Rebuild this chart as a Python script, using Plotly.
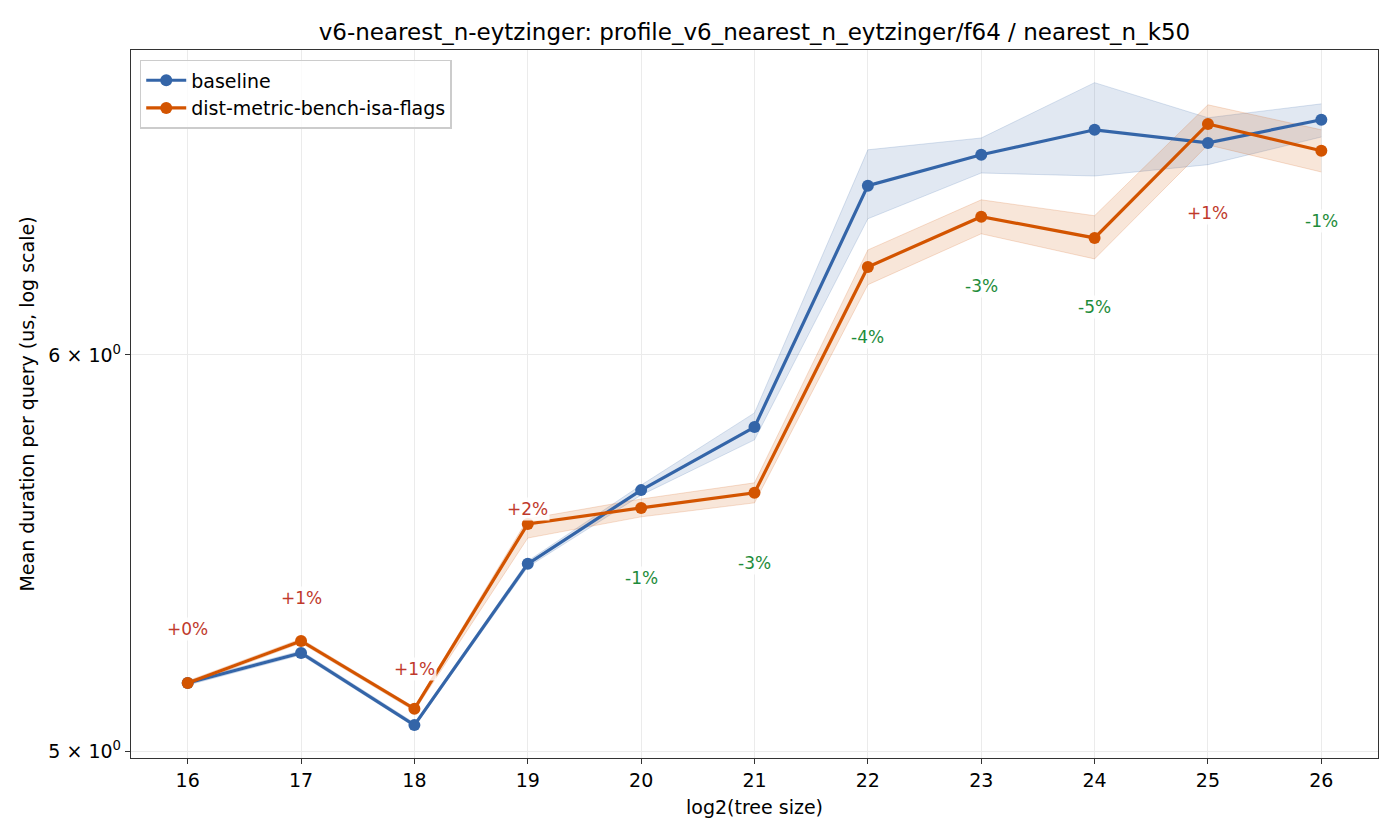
import math
import plotly.graph_objects as go

# ---- data ----
tree_log2 = [16, 17, 18, 19, 20, 21, 22, 23, 24, 25, 26]

baseline_mean = [5.159, 5.231, 5.060, 5.450, 5.638, 5.804, 6.486, 6.579, 6.655, 6.615, 6.686]
baseline_lo = [5.154, 5.226, 5.056, 5.442, 5.625, 5.770, 6.388, 6.524, 6.515, 6.549, 6.633]
baseline_hi = [5.164, 5.236, 5.065, 5.457, 5.651, 5.842, 6.594, 6.630, 6.801, 6.692, 6.735]

variant_mean = [5.159, 5.260, 5.098, 5.551, 5.592, 5.631, 6.248, 6.394, 6.332, 6.673, 6.591]
variant_lo = [5.154, 5.255, 5.093, 5.515, 5.569, 5.605, 6.197, 6.344, 6.271, 6.609, 6.527]
variant_hi = [5.164, 5.265, 5.102, 5.564, 5.615, 5.657, 6.297, 6.444, 6.397, 6.732, 6.655]

y_ticks = [5, 6]
y_tick_labels = ["5 × 10<sup>0</sup>", "6 × 10<sup>0</sup>"]

# ---- styling ----
BLUE = "#3465a8"
ORANGE = "#d35400"
RED = "#c0392b"
GREEN = "#1e8c3a"
FONT = "DejaVu Sans"

fig = go.Figure()

def band(x, lo, hi, rgba_fill, rgba_line):
    fig.add_trace(go.Scatter(x=x, y=hi, mode="lines", line=dict(color=rgba_line, width=1),
                             showlegend=False, hoverinfo="skip"))
    fig.add_trace(go.Scatter(x=x, y=lo, mode="lines", line=dict(color=rgba_line, width=1),
                             fill="tonexty", fillcolor=rgba_fill, showlegend=False, hoverinfo="skip"))

band(tree_log2, baseline_lo, baseline_hi, "rgba(52,101,168,0.15)", "rgba(52,101,168,0.18)")
band(tree_log2, variant_lo, variant_hi, "rgba(211,84,0,0.15)", "rgba(211,84,0,0.18)")

fig.add_trace(go.Scatter(x=tree_log2, y=baseline_mean, mode="lines+markers", name="baseline",
                         line=dict(color=BLUE, width=3.2), marker=dict(color=BLUE, size=12)))
fig.add_trace(go.Scatter(x=tree_log2, y=variant_mean, mode="lines+markers",
                         name="dist-metric-bench-isa-flags",
                         line=dict(color=ORANGE, width=3.2), marker=dict(color=ORANGE, size=12)))

# percent-change labels
label_shift_px = [54, 43, 40, 15, -70, -70, -70, -69, -69, -70, -70]
for i, x in enumerate(tree_log2):
    pct = (variant_mean[i] / baseline_mean[i] - 1) * 100
    r = round(pct)
    txt = f"{r:+d}%"
    shift = label_shift_px[i]
    anchor = max(baseline_mean[i], variant_mean[i]) if shift > 0 else min(baseline_mean[i], variant_mean[i])
    fig.add_annotation(x=x, y=math.log10(anchor), xref="x", yref="y", text=txt, showarrow=False,
                       yshift=shift,
                       font=dict(family=FONT, size=17, color=RED if pct >= 0 else GREEN),
                       bgcolor="rgba(255,255,255,0.85)", borderpad=1)

fig.update_layout(
    width=1400, height=840,
    paper_bgcolor="white", plot_bgcolor="white",
    margin=dict(l=131, r=22, t=50, b=82),
    font=dict(family=FONT, size=19, color="black"),
    title=dict(text="v6-nearest_n-eytzinger: profile_v6_nearest_n_eytzinger/f64 / nearest_n_k50",
               x=(131 + 1378) / 2 / 1400, xanchor="center", y=1 - 32 / 840, yanchor="middle",
               font=dict(family=FONT, size=23, color="black")),
    legend=dict(x=0.007, y=0.986, xanchor="left", yanchor="top", bgcolor="rgba(255,255,255,0.8)",
                bordercolor="#cccccc", borderwidth=1.5, font=dict(family=FONT, size=19),
                traceorder="normal", itemwidth=40),
    showlegend=True,
)

fig.update_xaxes(
    range=[15.5, 26.5], tickmode="array", tickvals=tree_log2,
    ticktext=[str(v) for v in tree_log2],
    showgrid=True, gridcolor="#ebebeb", gridwidth=1.2,
    showline=True, linecolor="#333333", linewidth=1.3, mirror=True,
    ticks="outside", ticklen=5, tickcolor="#333333",
    zeroline=False,
    title=dict(text="log2(tree size)", font=dict(family=FONT, size=19), standoff=10),
    tickfont=dict(family=FONT, size=19),
)
fig.update_yaxes(
    type="log", range=[math.log10(4.984), math.log10(6.904)],
    tickmode="array", tickvals=y_ticks, ticktext=y_tick_labels,
    showgrid=True, gridcolor="#ebebeb", gridwidth=1.2,
    showline=True, linecolor="#333333", linewidth=1.3, mirror=True,
    ticks="outside", ticklen=5, tickcolor="#333333",
    zeroline=False,
    title=dict(text="Mean duration per query (us, log scale)", font=dict(family=FONT, size=19), standoff=8),
    tickfont=dict(family=FONT, size=19),
)

fig.write_html("out.html")
